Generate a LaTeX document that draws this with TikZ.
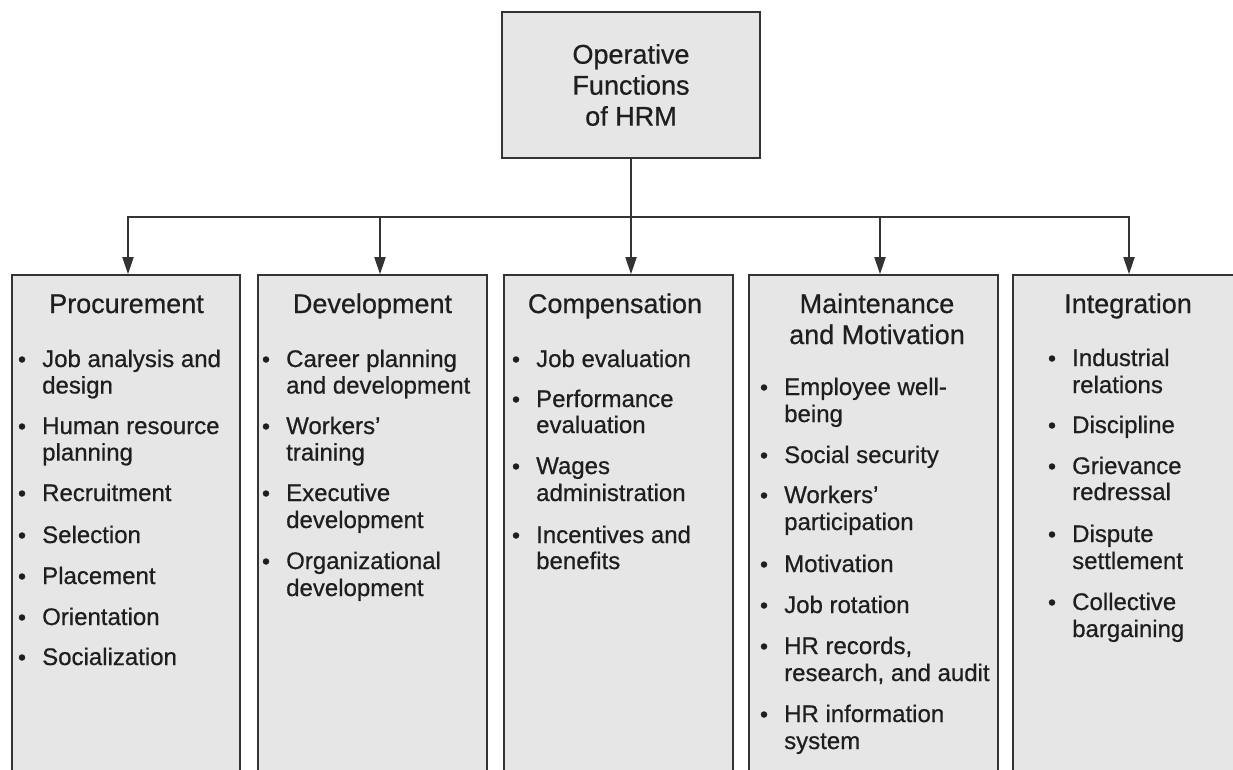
\documentclass[tikz,border=0pt]{standalone}
\usepackage{fontspec}
\setmainfont{Liberation Sans}
\newfontfamily\diagfont[FakeBold=0.6]{Liberation Sans}
\usetikzlibrary{arrows.meta}
\definecolor{boxfill}{HTML}{E6E6E6}
\definecolor{linecol}{HTML}{333333}
\definecolor{txt}{HTML}{1E1E1E}
\newcommand\bitem[4]{%
  \node[bul] (#1b) at (#2-20,#3-7.5) {};
  \node[itm] (#1) at (#2,#3) {#4};}
\newcommand\bcont[4]{\node[itm] (#1) at (#2,#3) {#4};}
\begin{document}
\begin{tikzpicture}[x=1pt,y=-1pt,
  fbox/.style={draw=linecol, line width=1.6pt, fill=boxfill, rectangle, inner sep=0pt},
  conn/.style={draw=linecol, line width=1.8pt, -{Triangle[length=17pt,width=11pt]}},
  itm/.style={anchor=base west, inner sep=0pt, font=\diagfont\fontsize{24}{26}\selectfont, text=txt},
  bul/.style={circle, fill=txt, minimum size=6.5pt, inner sep=0pt},
  ttl/.style={anchor=base, inner sep=0pt, font=\diagfont\fontsize{27}{31}\selectfont, text=txt}]
\useasboundingbox (0,0) rectangle (1233,769);
\clip (0,0) rectangle (1233,769);
\fill[white] (0,0) rectangle (1233,769);
% root
\node[fbox, minimum width=258pt, minimum height=146pt, align=center,
      font=\diagfont\fontsize{27}{31}\selectfont, text=txt] (root) at (631,85)
      {Operative\\Functions\\of HRM};
% boxes
\node[fbox, minimum width=228pt, minimum height=505pt] (proc)  at (126,527.5) {};
\node[fbox, minimum width=229pt, minimum height=505pt] (dev)   at (372.5,527.5) {};
\node[fbox, minimum width=229pt, minimum height=505pt] (comp)  at (618.5,527.5) {};
\node[fbox, minimum width=249pt, minimum height=505pt] (maint) at (873.5,527.5) {};
\node[fbox, minimum width=232pt, minimum height=505pt] (integ) at (1129,527.5) {};
% connectors
\coordinate (bus) at (631,217);
\draw[conn] (root.south) -- (root.south |- comp.north);
\draw[conn] (bus) -| ([xshift=2pt]proc.north);
\draw[conn] (bus) -| ([xshift=7.5pt]dev.north);
\draw[conn] (bus) -| ([xshift=6.5pt]maint.north);
\draw[conn] (bus) -| (integ.north);
% titles
\node[ttl] (tproc)  at (126.5,313) {Procurement};
\node[ttl] (tdev)   at (372.5,313) {Development};
\node[ttl] (tcomp)  at (615,313) {Compensation};
\node[ttl] (tmaint) at (877,313) {Maintenance};
\node[ttl] (tmaint2) at (877,344) {and Motivation};
\node[ttl] (tinteg) at (1128,313) {Integration};
% Procurement
\bitem{p1}{42}{367}{Job analysis and}
\bcont{p1c}{42}{393.5}{design}
\bitem{p2}{42}{434}{Human resource}
\bcont{p2c}{42}{460.5}{planning}
\bitem{p3}{42}{501}{Recruitment}
\bitem{p4}{42}{543}{Selection}
\bitem{p5}{42}{584}{Placement}
\bitem{p6}{42}{625}{Orientation}
\bitem{p7}{42}{665}{Socialization}
% Development
\bitem{d1}{286}{367}{Career planning}
\bcont{d1c}{286}{393.5}{and development}
\bitem{d2}{286}{434}{Workers’}
\bcont{d2c}{286}{460.5}{training}
\bitem{d3}{286}{501}{Executive}
\bcont{d3c}{286}{528}{development}
\bitem{d4}{286}{569}{Organizational}
\bcont{d4c}{286}{596}{development}
% Compensation
\bitem{c1}{536}{367}{Job evaluation}
\bitem{c2}{536}{407}{Performance}
\bcont{c2c}{536}{433}{evaluation}
\bitem{c3}{536}{474}{Wages}
\bcont{c3c}{536}{501}{administration}
\bitem{c4}{536}{543}{Incentives and}
\bcont{c4c}{536}{569}{benefits}
% Maintenance
\bitem{m1}{784}{395}{Employee well-}
\bcont{m1c}{784}{422}{being}
\bitem{m2}{784}{463}{Social security}
\bitem{m3}{784}{503}{Workers’}
\bcont{m3c}{784}{530}{participation}
\bitem{m4}{784}{572}{Motivation}
\bitem{m5}{784}{613}{Job rotation}
\bitem{m6}{784}{654}{HR records,}
\bcont{m6c}{784}{681}{research, and audit}
\bitem{m7}{784}{722}{HR information}
\bcont{m7c}{784}{749}{system}
% Integration
\bitem{i1}{1072}{366}{Industrial}
\bcont{i1c}{1072}{393}{relations}
\bitem{i2}{1072}{433}{Discipline}
\bitem{i3}{1072}{474}{Grievance}
\bcont{i3c}{1072}{500}{redressal}
\bitem{i4}{1072}{542}{Dispute}
\bcont{i4c}{1072}{569}{settlement}
\bitem{i5}{1072}{610}{Collective}
\bcont{i5c}{1072}{637}{bargaining}
\end{tikzpicture}
\end{document}
